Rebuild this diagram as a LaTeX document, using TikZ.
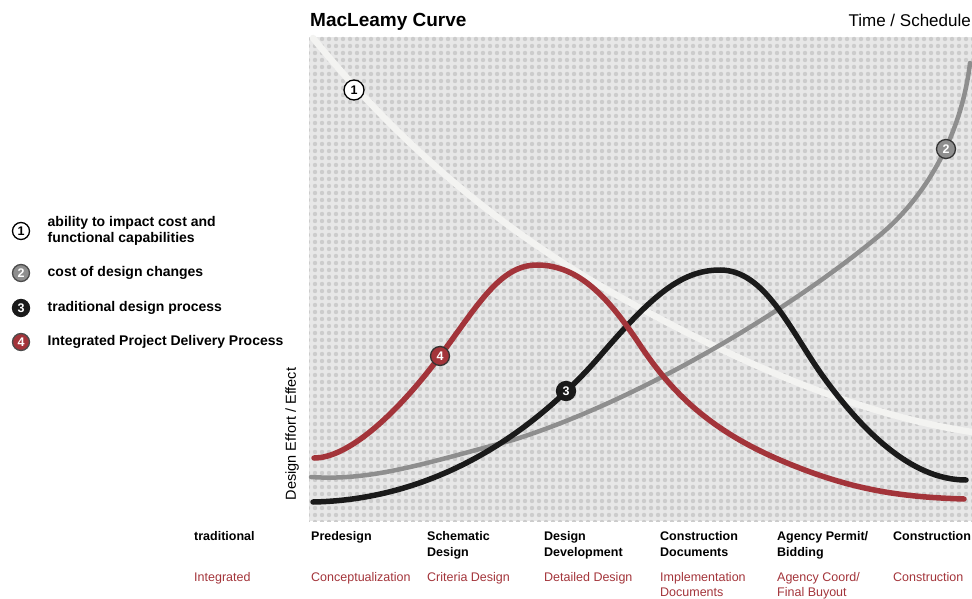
\documentclass[tikz,border=0pt]{standalone}
\usepackage{fontspec}
\setmainfont{Liberation Sans}
\usetikzlibrary{positioning, patterns.meta}
\definecolor{ipdred}{HTML}{A3343A}
\definecolor{costgray}{HTML}{8E8E8E}
\definecolor{impactwhite}{HTML}{F3F3F1}
\definecolor{tradblack}{HTML}{1A1A1A}
\definecolor{plotbg}{HTML}{E7E7E7}
\definecolor{dotgray}{HTML}{CCCCCC}
\tikzdeclarepattern{name=halftone, type=uncolored,
  bounding box={(-3.5pt,-3.5pt) and (3.5pt,3.5pt)}, tile size={(7pt,7pt)},
  code={\fill (0pt,0pt) circle (2.2pt);}}

\begin{document}
\begin{tikzpicture}[x=1pt,y=-1pt,
  curve/.style={line width=5.5pt, line cap=round},
  badge/.style={circle, line width=1.3pt, inner sep=0pt, minimum size=19pt, font=\fontsize{12.5}{12.5}\selectfont\bfseries},
  legendtext/.style={right=14pt of #1, anchor=west, align=left, font=\fontsize{14}{16.7}\selectfont\bfseries},
  phase/.style={anchor=north west, align=left, inner sep=0pt, font=\fontsize{12.5}{16}\selectfont\bfseries},
  ipd/.style={anchor=north west, align=left, inner sep=0pt, text=ipdred, font=\fontsize{12.5}{15}\selectfont}]
\useasboundingbox (0,0) rectangle (972,599);

% plot area
\fill[plotbg] (309,37) rectangle (972,521);
\fill[pattern=halftone, pattern color=dotgray] (309,37) rectangle (972,521);

\node[anchor=base west, inner sep=0pt, font=\fontsize{19}{19}\selectfont\bfseries] (title) at (310,27) {MacLeamy Curve};
\node[anchor=base east, inner sep=0pt, font=\fontsize{17}{17}\selectfont] (time) at (971,27) {Time / Schedule};
\node[rotate=90, inner sep=0pt, font=\fontsize{14.5}{14.5}\selectfont] (effort) at (292,434) {Design Effort / Effect};

% curves
\draw[curve, impactwhite, line width=6.5pt] (313,38) .. controls (400,145) and (500,230) .. (620,297)
  .. controls (740,364) and (860,415) .. (972,432);
\draw[curve, costgray, line width=4.5pt] (311,477) .. controls (370,481) and (420,465) .. (513,440)
  .. controls (640,400) and (790,310) .. (880,235) .. controls (930,193) and (962,130) .. (970,63);
\draw[curve, tradblack] (313,502) .. controls (420,500) and (520,448) .. (600,356)
  .. controls (650,298) and (680,270) .. (720,270) .. controls (765,270) and (790,330) .. (822,375)
  .. controls (860,428) and (910,480) .. (966,480);
\draw[curve, ipdred] (314,458) .. controls (350,458) and (400,410) .. (440,356)
  .. controls (478,305) and (500,265) .. (537,265) .. controls (580,265) and (610,300) .. (640,345)
  .. controls (672,393) and (710,430) .. (780,460) .. controls (850,490) and (900,497) .. (964,499);

% curve badges
\node[badge, draw=black, fill=white, minimum size=20pt] (b1) at (354,90) {1};
\node[badge, draw=black!80, fill=costgray, text=white] (b2) at (946,149) {2};
\node[badge, draw=tradblack, fill=tradblack, text=white] (b3) at (566,391) {3};
\node[badge, draw=black!80, fill=ipdred, text=white] (b4) at (440,356) {4};

% legend
\node[badge, draw=black, fill=white, minimum size=17pt] (l1) at (21,231) {1};
\node[legendtext=l1] (t1) {ability to impact cost and\\functional capabilities};
\node[badge, draw=black!70, fill=costgray, text=white, minimum size=17pt] (l2) at (21,273) {2};
\node[legendtext=l2] (t2) {cost of design changes};
\node[badge, draw=tradblack, fill=tradblack, text=white, minimum size=17pt] (l3) at (21,308) {3};
\node[legendtext=l3] (t3) {traditional design process};
\node[badge, draw=black!70, fill=ipdred, text=white, minimum size=17pt] (l4) at (21,342) {4};
\node[legendtext=l4] (t4) {Integrated Project Delivery Process};

% phases
\node[phase] (p0) at (194,531) {traditional};
\node[phase] (p1) at (311,531) {Predesign};
\node[phase] (p2) at (427,531) {Schematic\\Design};
\node[phase] (p3) at (544,531) {Design\\Development};
\node[phase] (p4) at (660,531) {Construction\\Documents};
\node[phase] (p5) at (777,531) {Agency Permit/\\Bidding};
\node[phase] (p6) at (893,531) {Construction};

\node[ipd] (i0) at (194,572) {Integrated};
\node[ipd] (i1) at (311,572) {Conceptualization};
\node[ipd] (i2) at (427,572) {Criteria Design};
\node[ipd] (i3) at (544,572) {Detailed Design};
\node[ipd] (i4) at (660,572) {Implementation\\Documents};
\node[ipd] (i5) at (777,572) {Agency Coord/\\Final Buyout};
\node[ipd] (i6) at (893,572) {Construction};
\end{tikzpicture}
\end{document}
